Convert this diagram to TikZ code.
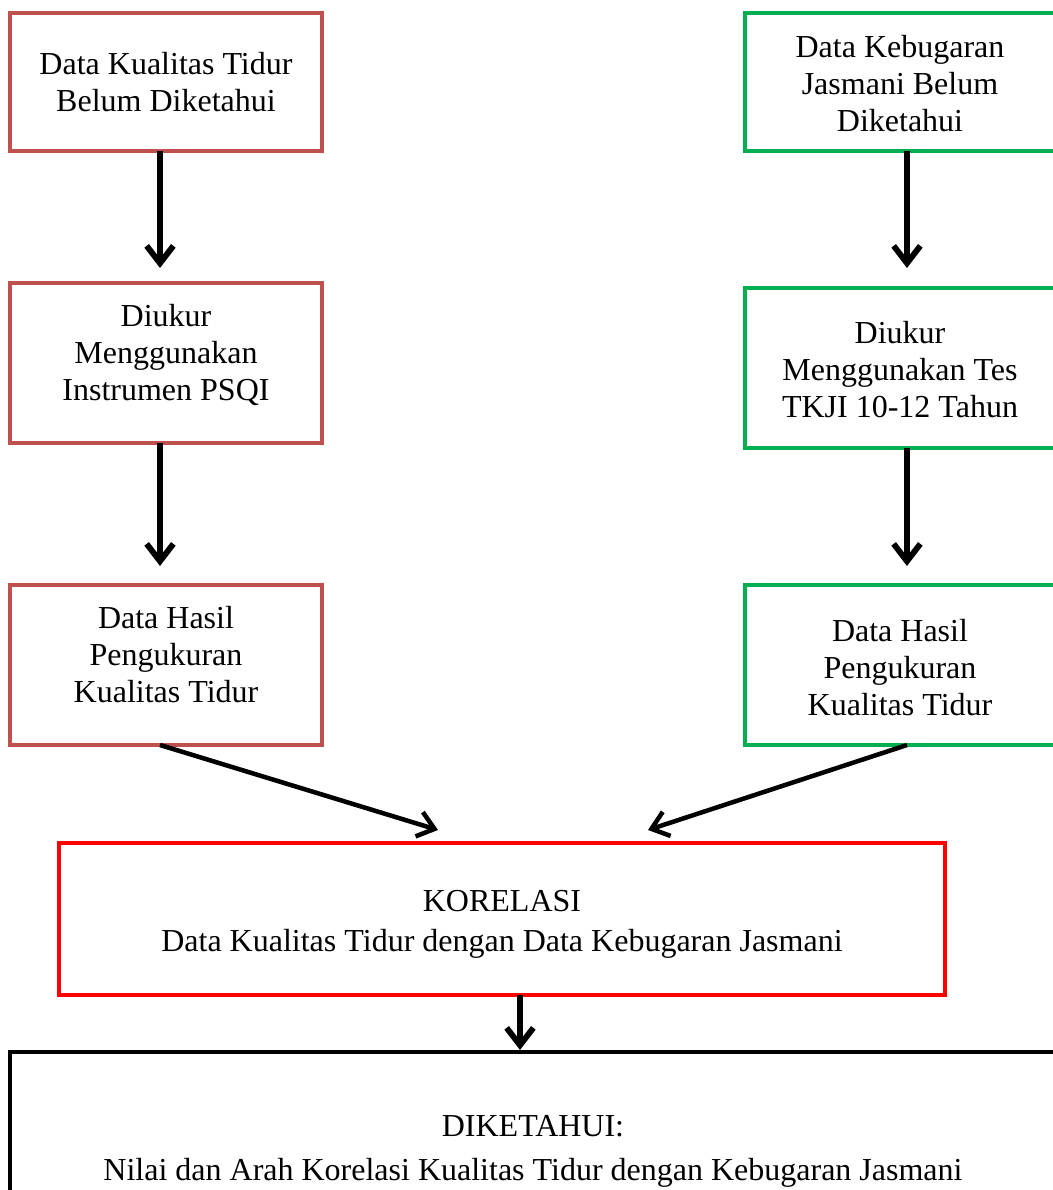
\documentclass[tikz,border=0pt]{standalone}
\usepackage{fontspec}
\setmainfont{Liberation Serif}
\usetikzlibrary{arrows.meta}
\definecolor{boxred}{HTML}{C0504D}
\definecolor{boxgreen}{HTML}{00B050}
\definecolor{korred}{HTML}{FF0000}
\tikzset{
  box/.style={draw, line width=3.3pt, rectangle, inner sep=0pt},
  txt/.style={align=center, inner sep=0pt, text=black, font=\fontsize{24}{27.75}\selectfont},
  rbox/.style={box, draw=boxred},
  gbox/.style={box, draw=boxgreen},
  kbox/.style={box, draw=korred},
  bbox/.style={box, draw=black},
  arr/.style={line width=4.4pt, -{Straight Barb[length=13pt,width=20pt,line width=4.4pt]}},
  darr/.style={line width=3.4pt, -{Straight Barb[length=12pt,width=19pt,line width=3.4pt]}},
}
\begin{document}
\begin{tikzpicture}[x=0.75pt,y=-0.75pt]
\useasboundingbox (0,0) rectangle (1053,1190);
\clip (0,0) rectangle (1053,1190);
\fill[white] (0,0) rectangle (1053,1190);
% left column
\node[rbox, minimum width=234pt, minimum height=103.5pt,
  label={[txt]center:Data Kualitas Tidur\\Belum Diketahui}] (r1) at (166,82) {};
\node[rbox, minimum width=234pt, minimum height=120pt,
  label={[txt,yshift=6pt]center:Diukur\\Menggunakan\\Instrumen PSQI}] (r2) at (166,363) {};
\node[rbox, minimum width=234pt, minimum height=120pt,
  label={[txt,yshift=7.5pt]center:Data Hasil\\Pengukuran\\Kualitas Tidur}] (r3) at (166,665) {};
% right column
\node[gbox, minimum width=232.5pt, minimum height=103.5pt,
  label={[txt,yshift=-1.5pt]center:Data Kebugaran\\Jasmani Belum\\Diketahui}] (g1) at (900,82) {};
\node[gbox, minimum width=232.5pt, minimum height=120pt,
  label={[txt,yshift=-1.5pt]center:Diukur\\Menggunakan Tes\\TKJI 10-12 Tahun}] (g2) at (900,368) {};
\node[gbox, minimum width=232.5pt, minimum height=120pt,
  label={[txt,yshift=-2pt]center:Data Hasil\\Pengukuran\\Kualitas Tidur}] (g3) at (900,665) {};
% korelasi
\node[kbox, minimum width=664.5pt, minimum height=114pt,
  label={[txt,font=\fontsize{24}{30}\selectfont,yshift=-4pt]center:KORELASI\\Data Kualitas Tidur dengan Data Kebugaran Jasmani}] (k) at (502,919) {};
% bottom
\node[bbox, minimum width=784.5pt, minimum height=144pt,
  label={[txt,font=\fontsize{24}{33}\selectfont,yshift=-2.5pt]center:DIKETAHUI:\\Nilai dan Arah Korelasi Kualitas Tidur dengan Kebugaran Jasmani}] (d) at (533,1148) {};
% connector points
\coordinate (r1s) at (160,151);
\coordinate (r2t) at (160,268);
\coordinate (r2s) at (160,443);
\coordinate (r3t) at (160,566);
\coordinate (g1s) at (907,151);
\coordinate (g2t) at (907,268);
\coordinate (g2s) at (907,448);
\coordinate (g3t) at (907,566);
\coordinate (r3s) at (160,745);
\coordinate (kl) at (438,830);
\coordinate (g3s) at (907,745);
\coordinate (kr) at (648,830);
\coordinate (ks) at (520,995);
\coordinate (dt) at (520,1050);
\draw[arr] (r1s) -- (r2t);
\draw[arr] (r2s) -- (r3t);
\draw[arr] (g1s) -- (g2t);
\draw[arr] (g2s) -- (g3t);
\draw[darr] (r3s) -- (kl);
\draw[darr] (g3s) -- (kr);
\draw[arr] (ks) -- (dt);
\end{tikzpicture}
\end{document}
